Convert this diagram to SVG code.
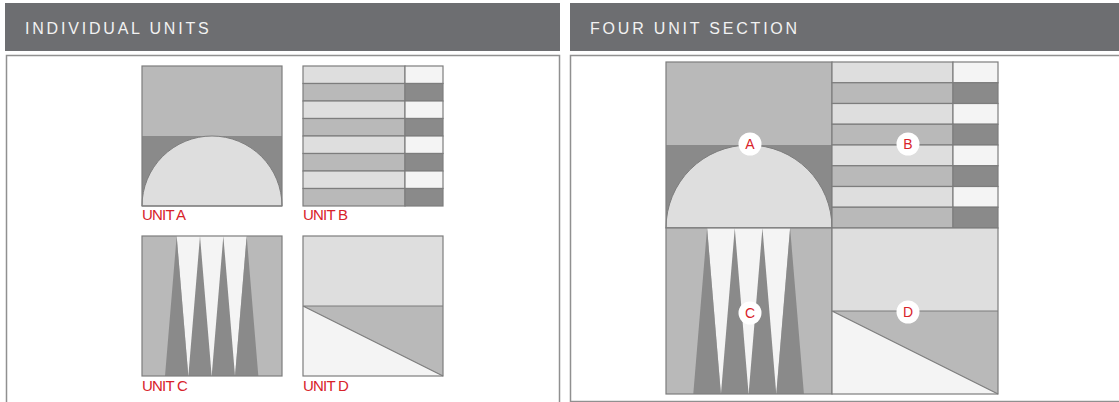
<svg xmlns="http://www.w3.org/2000/svg" width="1119" height="402" viewBox="0 0 1119 402">
<style>
.hdr{fill:#6d6e71}
.hdrt{fill:#f2f2f2;font-family:"Liberation Sans",Arial,sans-serif;font-size:16px;letter-spacing:2.8px}
.frame{fill:#fff;stroke:#909090;stroke-width:1.5}
.l1{fill:#dedede}
.l2{fill:#b9b9b9}
.dk{fill:#8a8a8a}
.wh{fill:#f4f4f4}
.ln{stroke:#7d7d7d;stroke-width:1.2;fill:none}
.cell{stroke:#7d7d7d;stroke-width:1.2}
.lab{fill:#d8232a;font-family:"Liberation Sans",Arial,sans-serif;font-size:15px;letter-spacing:-0.8px}
.badge{fill:#fff}
.bt{fill:#d8232a;font-family:"Liberation Sans",Arial,sans-serif;font-size:14px;text-anchor:middle}
</style>
<rect width="1119" height="402" fill="#fff"/>
<g id="panel-left">
<rect class="hdr" x="5" y="3" width="555" height="48"/>
<text class="hdrt" x="25" y="34">INDIVIDUAL UNITS</text>
<rect class="frame" x="6.5" y="55.5" width="553" height="360"/>
</g>
<g id="panel-right">
<rect class="hdr" x="570" y="3" width="549" height="48"/>
<text class="hdrt" x="590" y="34">FOUR UNIT SECTION</text>
<rect class="frame" x="570.5" y="55.5" width="560" height="346"/>
</g>
<g id="unit-a">
<rect class="l2" x="142" y="66" width="140" height="70"/>
<rect class="dk" x="142" y="136" width="140" height="70"/>
<path class="l1" d="M142,206 A70,70 0 0 1 282,206 Z" stroke="#7d7d7d" stroke-width="1"/>
<rect class="ln" x="142" y="66" width="140" height="140"/>
<text class="lab" x="142" y="220">UNIT A</text>
</g>
<g id="unit-b">
<rect class="l1 cell" x="303" y="66" width="102" height="17.5"/><rect class="wh cell" x="405" y="66" width="38" height="17.5"/>
<rect class="l2 cell" x="303" y="83.5" width="102" height="17.5"/><rect class="dk cell" x="405" y="83.5" width="38" height="17.5"/>
<rect class="l1 cell" x="303" y="101" width="102" height="17.5"/><rect class="wh cell" x="405" y="101" width="38" height="17.5"/>
<rect class="l2 cell" x="303" y="118.5" width="102" height="17.5"/><rect class="dk cell" x="405" y="118.5" width="38" height="17.5"/>
<rect class="l1 cell" x="303" y="136" width="102" height="17.5"/><rect class="wh cell" x="405" y="136" width="38" height="17.5"/>
<rect class="l2 cell" x="303" y="153.5" width="102" height="17.5"/><rect class="dk cell" x="405" y="153.5" width="38" height="17.5"/>
<rect class="l1 cell" x="303" y="171" width="102" height="17.5"/><rect class="wh cell" x="405" y="171" width="38" height="17.5"/>
<rect class="l2 cell" x="303" y="188.5" width="102" height="17.5"/><rect class="dk cell" x="405" y="188.5" width="38" height="17.5"/>
<text class="lab" x="303" y="220">UNIT B</text>
</g>
<g id="unit-c">
<rect class="l2" x="142" y="236" width="140" height="140"/>
<polygon class="wh" points="176.67,236 246.67,236 235,376 188.33,376"/>
<polygon class="dk" points="176.67,236 165,376 188.33,376"/>
<polygon class="dk" points="200,236 188.33,376 211.67,376"/>
<polygon class="dk" points="223.33,236 211.67,376 235,376"/>
<polygon class="dk" points="246.67,236 235,376 258.33,376"/>
<rect class="ln" x="142" y="236" width="140" height="140"/>
<text class="lab" x="142" y="391">UNIT C</text>
</g>
<g id="unit-d">
<rect class="l1" x="303" y="236" width="140" height="70"/>
<rect class="l2" x="303" y="306" width="140" height="70"/>
<polygon class="wh" points="303,306 443,376 303,376"/>
<path class="ln" d="M303,306 H443 M303,306 L443,376"/>
<rect class="ln" x="303" y="236" width="140" height="140"/>
<text class="lab" x="303" y="391">UNIT D</text>
</g>
<g id="section-a">
<rect class="l2" x="666" y="62" width="166" height="83"/>
<rect class="dk" x="666" y="145" width="166" height="83"/>
<path class="l1" d="M666,228 A83,83 0 0 1 832,228 Z" stroke="#7d7d7d" stroke-width="1"/>
<rect class="ln" x="666" y="62" width="166" height="166"/>
</g>
<g id="section-b">
<rect class="l1 cell" x="832" y="62" width="121" height="20.75"/><rect class="wh cell" x="953" y="62" width="45" height="20.75"/>
<rect class="l2 cell" x="832" y="82.75" width="121" height="20.75"/><rect class="dk cell" x="953" y="82.75" width="45" height="20.75"/>
<rect class="l1 cell" x="832" y="103.5" width="121" height="20.75"/><rect class="wh cell" x="953" y="103.5" width="45" height="20.75"/>
<rect class="l2 cell" x="832" y="124.25" width="121" height="20.75"/><rect class="dk cell" x="953" y="124.25" width="45" height="20.75"/>
<rect class="l1 cell" x="832" y="145" width="121" height="20.75"/><rect class="wh cell" x="953" y="145" width="45" height="20.75"/>
<rect class="l2 cell" x="832" y="165.75" width="121" height="20.75"/><rect class="dk cell" x="953" y="165.75" width="45" height="20.75"/>
<rect class="l1 cell" x="832" y="186.5" width="121" height="20.75"/><rect class="wh cell" x="953" y="186.5" width="45" height="20.75"/>
<rect class="l2 cell" x="832" y="207.25" width="121" height="20.75"/><rect class="dk cell" x="953" y="207.25" width="45" height="20.75"/>
</g>
<g id="section-c">
<rect class="l2" x="666" y="228" width="166" height="166"/>
<polygon class="wh" points="707.1,228 790.1,228 776.27,394 720.93,394"/>
<polygon class="dk" points="707.1,228 693.27,394 720.93,394"/>
<polygon class="dk" points="734.77,228 720.93,394 748.6,394"/>
<polygon class="dk" points="762.43,228 748.6,394 776.27,394"/>
<polygon class="dk" points="790.1,228 776.27,394 803.93,394"/>
<rect class="ln" x="666" y="228" width="166" height="166"/>
</g>
<g id="section-d">
<rect class="l1" x="832" y="228" width="166" height="83"/>
<rect class="l2" x="832" y="311" width="166" height="83"/>
<polygon class="wh" points="832,311 998,394 832,394"/>
<path class="ln" d="M832,311 H998 M832,311 L998,394"/>
<rect class="ln" x="832" y="228" width="166" height="166"/>
</g>
<g id="badge-a"><circle class="badge" cx="750" cy="144" r="11.5"/><text class="bt" x="750" y="149">A</text></g>
<g id="badge-b"><circle class="badge" cx="908" cy="144" r="11.5"/><text class="bt" x="908" y="149">B</text></g>
<g id="badge-c"><circle class="badge" cx="750" cy="313" r="11.5"/><text class="bt" x="750" y="318">C</text></g>
<g id="badge-d"><circle class="badge" cx="908" cy="312" r="11.5"/><text class="bt" x="908" y="317">D</text></g>
</svg>
